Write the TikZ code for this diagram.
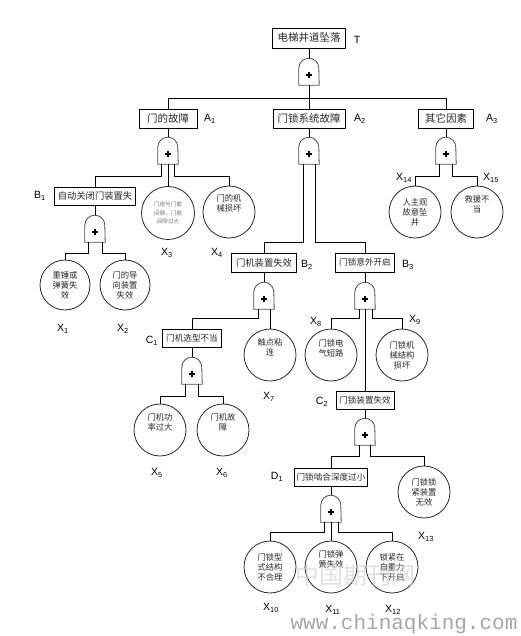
\documentclass[tikz,border=0pt]{standalone}
\usepackage{fontspec}
\setmainfont{Liberation Sans}
\newfontfamily\cjk{Noto Sans CJK SC}
\newfontfamily\monofam{Liberation Mono}
\begin{document}
\begin{tikzpicture}[x=1pt,y=-1pt,
  evbox/.style={draw=black, line width=0.9pt, inner sep=0pt, minimum height=19pt, text=black!85},
  fa/.style={font=\cjk\fontsize{10.5}{12}\selectfont},
  fb/.style={font=\cjk\fontsize{9.3}{11}\selectfont},
  fc/.style={font=\cjk\fontsize{8.6}{10}\selectfont},
  gatenode/.style={inner sep=0pt, minimum width=20pt, minimum height=27pt},
  basic/.style={circle, draw=black!85, line width=0.8pt, minimum size=52pt, inner sep=0pt, align=center, text=black!85, font=\cjk\fontsize{8.3}{10}\selectfont},
  lbl/.style={font=\fontsize{10.5}{12}\selectfont, inner sep=0pt},
  conn/.style={line width=0.9pt, draw=black},
  gateline/.style={line width=0.8pt, draw=black!70},
]
\useasboundingbox (0,0) rectangle (520,636);

% event boxes
\node[evbox,fa,minimum width=73pt,minimum height=20pt] (T) at (309,38) {电梯井道坠落};
\node[evbox,fa,minimum width=58pt] (A1) at (168,118.5) {门的故障};
\node[evbox,fa,minimum width=72pt] (A2) at (309,118.5) {门锁系统故障};
\node[evbox,fa,minimum width=55pt] (A3) at (446,118.5) {其它因素};
\node[evbox,fb,minimum width=81pt,minimum height=18pt] (B1) at (95,196) {自动关闭门装置失};
\node[evbox,fb,minimum width=65pt] (B2) at (264,262.5) {门机装置失效};
\node[evbox,fc,minimum width=59pt] (B3) at (365,262.5) {门锁意外开启};
\node[evbox,fc,minimum width=59pt,minimum height=18pt] (C1) at (192,338) {门机选型不当};
\node[evbox,fc,minimum width=58pt,minimum height=18pt] (C2) at (365,400) {门锁装置失效};
\node[evbox,fc,minimum width=73pt,minimum height=18pt] (D1) at (331,477) {门锁啮合深度过小};

% gates
\node[gatenode] (g0) at (309,71.5) {};
\node[gatenode] (gA1) at (168,150.5) {};
\node[gatenode] (gA2) at (309,150.5) {};
\node[gatenode] (gA3) at (446,150.5) {};
\node[gatenode] (gB1) at (95,228.5) {};
\node[gatenode] (gB2) at (264,295.5) {};
\node[gatenode] (gB3) at (365,295.5) {};
\node[gatenode] (gC1) at (192,370.5) {};
\node[gatenode] (gC2) at (365,431.5) {};
\node[gatenode] (gD1) at (331,508.5) {};
\foreach \g in {g0,gA1,gA2,gA3,gB1,gB2,gB3,gC1,gC2,gD1}{
  \draw[gateline] (\g.south west) -- ([yshift=17pt]\g.south west)
     arc[start angle=180,end angle=0,radius=10pt] -- (\g.south east) -- cycle;
  \draw[line width=1.1pt] ([xshift=-3.3pt,yshift=-3.5pt]\g.center) -- ([xshift=3.3pt,yshift=-3.5pt]\g.center);
  \draw[line width=1.1pt] ([yshift=-6.8pt]\g.center) -- ([yshift=-0.2pt]\g.center);
}

% basic events
\node[basic,minimum size=50pt] (X1) at (65,285) {重锤或\\弹簧失\\效};
\node[basic,minimum size=50pt] (X2) at (125,285) {门的导\\向装置\\失效};
\node[basic,minimum size=53pt,text=black!55,font=\cjk\fontsize{5.6}{8.5}\selectfont] (X3) at (168,213) {门扇与门套\\间隙，门扇\\间隙过大};
\node[basic] (X4) at (229,212) {门的机\\械损坏\\[9pt]};
\node[basic] (X5) at (160,430) {门机功\\率过大\\[6pt]};
\node[basic] (X6) at (223,430) {门机故\\障\\[6pt]};
\node[basic] (X7) at (270,355) {触点粘\\连\\[6pt]};
\node[basic] (X8) at (331,355) {门锁电\\气短路\\[4pt]};
\node[basic] (X9) at (402,355) {门锁机\\械结构\\损坏};
\node[basic] (X13) at (424,492) {门锁锁\\紧装置\\无效};
\node[basic] (X10) at (270,567) {门锁型\\式结构\\不合理};
\node[basic] (X11) at (331,567) {门锁弹\\簧失效\\[6pt]};
\node[basic] (X12) at (392,567) {锁紧在\\自重力\\下开启};
\node[basic] (X14) at (415,212) {人主观\\故意坠\\井};
\node[basic] (X15) at (477,212) {救援不\\当\\[6pt]};

% connectors
\draw[conn] (T.south) -- (g0.north);
\draw[conn] (g0.south) -- (A2.north);
\draw[conn] (A1.north) -- (A1.north |- 0,98) -- (A3.north |- 0,98) -- (A3.north);
\draw[conn] (A1.south) -- (gA1.north);
\draw[conn] (A2.south) -- (gA2.north);
\draw[conn] (A3.south) -- (gA3.north);
\draw[conn] ([xshift=-6.5pt]gA1.south) -- ++(0,12) -| (B1.north);
\draw[conn] (gA1.south) -- (X3.north);
\draw[conn] ([xshift=6.5pt]gA1.south) -- ++(0,12) -| (X4.north);
\draw[conn] ([xshift=-6pt]gA2.south) -- ++(0,78) -| (B2.north);
\draw[conn] ([xshift=6pt]gA2.south) -- ++(0,78) -| (B3.north);
\draw[conn] ([xshift=-6.5pt]gA3.south) -- ++(0,12) -| (X14.north);
\draw[conn] ([xshift=6.5pt]gA3.south) -- ++(0,12) -| (X15.north);
\draw[conn] (B1.south) -- (gB1.north);
\draw[conn] ([xshift=-7pt]gB1.south) -- ++(0,11) -| (X1.north);
\draw[conn] ([xshift=7pt]gB1.south) -- ++(0,11) -| (X2.north);
\draw[conn] (B2.south) -- (gB2.north);
\draw[conn] (B3.south) -- (gB3.north);
\draw[conn] ([xshift=-5.5pt]gB2.south) -- ++(0,9) -| (C1.north);
\draw[conn] ([xshift=6pt]gB2.south) -- (X7.north);
\draw[conn] ([xshift=-6pt]gB3.south) -- ++(0,9) -| (X8.north);
\draw[conn] (gB3.south) -- (C2.north);
\draw[conn] ([xshift=7pt]gB3.south) -- ++(0,9) -| (X9.north);
\draw[conn] (C1.south) -- (gC1.north);
\draw[conn] ([xshift=-6.5pt]gC1.south) -- ++(0,12) -| (X5.north);
\draw[conn] ([xshift=6.5pt]gC1.south) -- ++(0,12) -| (X6.north);
\draw[conn] (C2.south) -- (gC2.north);
\draw[conn] ([xshift=-5.5pt]gC2.south) -- ++(0,11) -| (D1.north);
\draw[conn] ([xshift=5.5pt]gC2.south) -- ++(0,11) -| (X13.north);
\draw[conn] (D1.south) -- (gD1.north);
\draw[conn] ([xshift=-7pt]gD1.south) -- ++(0,10) -| (X10.north);
\draw[conn] (gD1.south) -- (X11.north);
\draw[conn] ([xshift=7pt]gD1.south) -- ++(0,10) -| (X12.north);

% labels
\node[lbl] (lT) at (357,40) {T};
\node[lbl] (lA1) at (210,119) {A\textsubscript{1}};
\node[lbl] (lA2) at (360,119) {A\textsubscript{2}};
\node[lbl] (lA3) at (492,119) {A\textsubscript{3}};
\node[lbl] (lB1) at (40,196) {B\textsubscript{1}};
\node[lbl] (lB2) at (307,265) {B\textsubscript{2}};
\node[lbl] (lB3) at (408,265) {B\textsubscript{3}};
\node[lbl] (lC1) at (152,341) {C\textsubscript{1}};
\node[lbl] (lC2) at (322,402) {C\textsubscript{2}};
\node[lbl] (lD1) at (277,477) {D\textsubscript{1}};
\node[lbl] (lX1) at (63,329) {X\textsubscript{1}};
\node[lbl] (lX2) at (123,329) {X\textsubscript{2}};
\node[lbl] (lX3) at (167,253) {X\textsubscript{3}};
\node[lbl] (lX4) at (217,253) {X\textsubscript{4}};
\node[lbl] (lX5) at (157,473) {X\textsubscript{5}};
\node[lbl] (lX6) at (222,473) {X\textsubscript{6}};
\node[lbl] (lX7) at (269,397) {X\textsubscript{7}};
\node[lbl] (lX8) at (316,322) {X\textsubscript{8}};
\node[lbl] (lX9) at (415,320) {X\textsubscript{9}};
\node[lbl] (lX10) at (271,608) {X\textsubscript{10}};
\node[lbl] (lX11) at (333,610) {X\textsubscript{11}};
\node[lbl] (lX12) at (393,610) {X\textsubscript{12}};
\node[lbl] (lX13) at (426,537) {X\textsubscript{13}};
\node[lbl] (lX14) at (404,178) {X\textsubscript{14}};
\node[lbl] (lX15) at (491,178) {X\textsubscript{15}};

% watermark
\node[inner sep=0pt,text=gray!40,opacity=0.6,font=\cjk\fontsize{24}{26}\selectfont] (wm1) at (355,575) {中国期刊网};
\node[inner sep=0pt,text=gray!70,font=\monofam\fontsize{21}{22}\selectfont] (wm2) at (404,624) {www.chinaqking.com};
\end{tikzpicture}
\end{document}
